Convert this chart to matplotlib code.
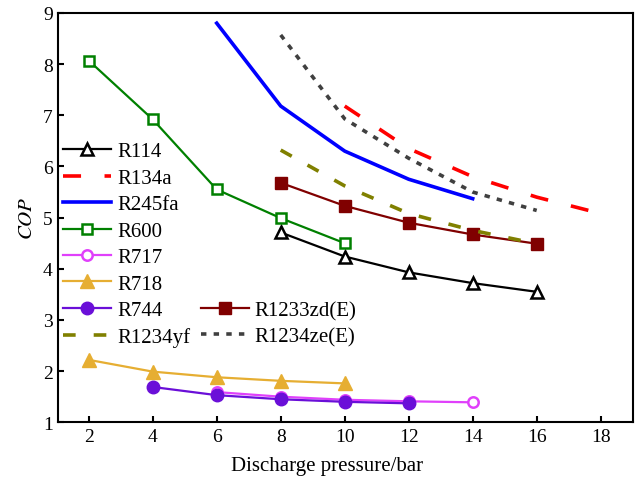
import numpy as np
from matplotlib import pyplot as plt
from matplotlib.lines import Line2D

plt.rcParams['font.family'] = ['Liberation Serif', 'DejaVu Serif']
plt.rcParams['mathtext.fontset'] = 'stix'

# pressao de descarga (bar) e COP de cada fluido
p_r114 = [8, 10, 12, 14, 16]
cop_r114 = [4.71, 4.24, 3.93, 3.72, 3.55]

p_r134a = [10, 12, 14, 16, 18]
cop_r134a = [7.18, 6.35, 5.80, 5.40, 5.08]

p_r245fa = [6, 8, 10, 12, 14]
cop_r245fa = [8.80, 7.18, 6.30, 5.75, 5.37]

p_r600 = [2, 4, 6, 8, 10]
cop_r600 = [8.07, 6.92, 5.55, 4.99, 4.50]

p_r717 = [6, 8, 10, 12, 14]
cop_r717 = [1.59, 1.50, 1.44, 1.41, 1.39]

p_r718 = [2, 4, 6, 8, 10]
cop_r718 = [2.22, 1.99, 1.88, 1.81, 1.76]

p_r744 = [4, 6, 8, 10, 12]
cop_r744 = [1.69, 1.53, 1.45, 1.40, 1.37]

p_r1233 = [8, 10, 12, 14, 16]
cop_r1233 = [5.68, 5.23, 4.90, 4.67, 4.49]

p_r1234yf = [8, 10, 12, 14, 16]
cop_r1234yf = [6.32, 5.62, 5.08, 4.75, 4.49]

p_r1234ze = [8, 10, 12, 14, 16]
cop_r1234ze = [8.57, 6.93, 6.16, 5.50, 5.14]

x_ticks = [2, 4, 6, 8, 10, 12, 14, 16, 18]
y_ticks = [1, 2, 3, 4, 5, 6, 7, 8, 9]

fig = plt.figure(figsize=(6.36, 4.81), dpi=100)
ax = fig.add_axes([0.0917, 0.12, 0.9031, 0.851])

h114, = ax.plot(p_r114, cop_r114, color='black', lw=1.6, marker='^', ms=9,
                mfc='white', mec='black', mew=1.8, label='R114')
h134a, = ax.plot(p_r134a, cop_r134a, color='red', lw=2.6, dashes=(5, 6.5), label='R134a')
h245, = ax.plot(p_r245fa, cop_r245fa, color='blue', lw=2.6, label='R245fa')
h600, = ax.plot(p_r600, cop_r600, color='#008000', lw=1.6, marker='s', ms=6.5,
                mfc='white', mec='#008000', mew=1.8, label='R600')
h717, = ax.plot(p_r717, cop_r717, color='#E040FB', lw=1.6, marker='o', ms=7.5,
                mfc='white', mec='#E040FB', mew=1.8, label='R717')
h718, = ax.plot(p_r718, cop_r718, color='#E6AE32', lw=1.6, marker='^', ms=10,
                label='R718')
h744, = ax.plot(p_r744, cop_r744, color='#6A0FD8', lw=1.6, marker='o', ms=9,
                label='R744')
h1233, = ax.plot(p_r1233, cop_r1233, color='#800000', lw=1.6, marker='s', ms=8.5,
                 label='R1233zd(E)')
hyf, = ax.plot(p_r1234yf, cop_r1234yf, color='#808000', lw=2.6, dashes=(3.5, 5),
               label='R1234yf')
hze, = ax.plot(p_r1234ze, cop_r1234ze, color='#404040', lw=2.6, dashes=(1.5, 2),
               label='R1234ze(E)')

ax.set_xlim(1.05, 19)
ax.set_ylim(1, 9)
ax.set_xticks(x_ticks)
ax.set_yticks(y_ticks)
ax.tick_params(direction='in', length=4, width=1.5, labelsize=14, pad=4,
               top=False, right=False)
for s in ax.spines.values():
    s.set_linewidth(1.5)
ax.set_xlabel('Discharge pressure/bar', fontsize=15)
ax.xaxis.set_label_coords(0.468, -0.083)
ax.set_ylabel('$\\mathit{COP}$', fontsize=15)

# legenda em duas colunas: a segunda so tem dois itens no final
vazio = Line2D([], [], alpha=0)
handles = [h114, h134a, h245, h600, h717, h718, h744, hyf,
           vazio, vazio, vazio, vazio, vazio, vazio, h1233, hze]
labels = ['R114', 'R134a', 'R245fa', 'R600', 'R717', 'R718', 'R744', 'R1234yf',
          '', '', '', '', '', '', 'R1233zd(E)', 'R1234ze(E)']
ax.legend(handles, labels, ncol=2, loc='upper left', bbox_to_anchor=(0.008, 0.685),
          frameon=False, fontsize=15, handlelength=2.3, handletextpad=0.3,
          columnspacing=0.5, labelspacing=0.33, borderpad=0, borderaxespad=0)

plt.savefig('out.png', dpi=100)
